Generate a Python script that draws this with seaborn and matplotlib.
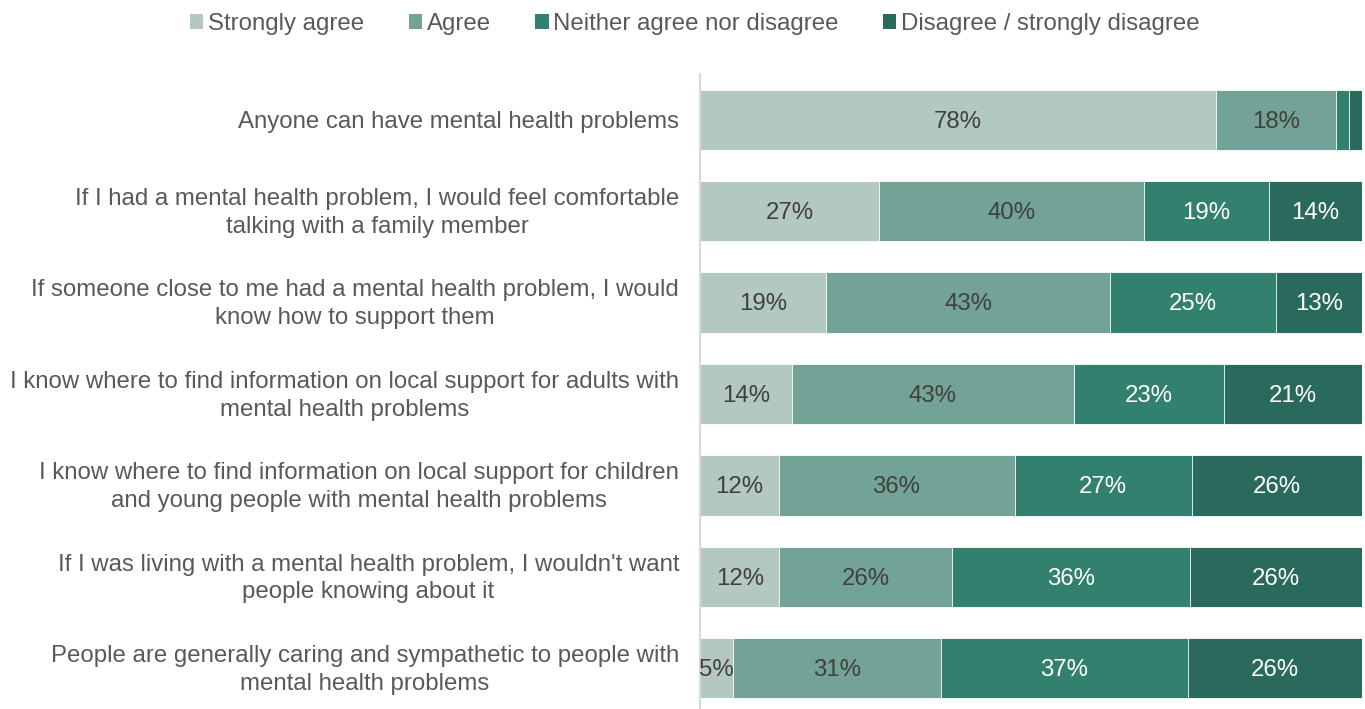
import numpy as np
import pandas as pd
import matplotlib
matplotlib.use("Agg")
import matplotlib.pyplot as plt
from matplotlib.patches import Patch
import seaborn as sns

statements = [
    "Anyone can have mental health problems",
    "If I had a mental health problem, I would feel comfortable\ntalking with a family member",
    "If someone close to me had a mental health problem, I would\nknow how to support them",
    "I know where to find information on local support for adults with\nmental health problems",
    "I know where to find information on local support for children\nand young people with mental health problems",
    "If I was living with a mental health problem, I wouldn't want\npeople knowing about it",
    "People are generally caring and sympathetic to people with\nmental health problems",
]
series_names = ["Strongly agree", "Agree", "Neither agree nor disagree",
                "Disagree / strongly disagree"]
strongly_agree = [78, 27, 19, 14, 12, 12, 5]
agree = [18, 40, 43, 43, 36, 26, 31]
neither = [2, 19, 25, 23, 27, 36, 37]
disagree = [2, 14, 13, 21, 26, 26, 26]

colors = ["#B2C8C1", "#73A396", "#32806E", "#2A6A5C"]
label_colors = ["#404040", "#404040", "#FFFFFF", "#FFFFFF"]
FS = 17.3

sns.set_style("white")
plt.rcParams["font.family"] = ["Liberation Sans", "DejaVu Sans"]

vals = np.array([strongly_agree, agree, neither, disagree], dtype=float)
shares = vals / vals.sum(axis=0)  # each bar fills the full width
cum = np.cumsum(shares, axis=0)

fig = plt.figure(figsize=(13.65, 7.09), dpi=100)
ax = fig.add_axes([700 / 1365, -5 / 709, 662 / 1365, 640 / 709])

# stacked bars: draw cumulative totals from the outermost segment inwards
for i in range(3, -1, -1):
    df = pd.DataFrame({"statement": statements, "value": cum[i]})
    sns.barplot(data=df, x="value", y="statement", orient="h", color=colors[i],
                saturation=1, width=0.66, edgecolor="white", linewidth=0.6, ax=ax)

for i in range(4):
    left = cum[i] - shares[i]
    for r in range(len(statements)):
        if vals[i, r] >= 5:
            ax.text(left[r] + shares[i, r] / 2, r + 0.02, f"{int(vals[i, r])}%",
                    ha="center", va="center", fontsize=FS, color=label_colors[i])

ax.set_xlim(0, 1)
ax.set_ylim(len(statements) - 0.5, -0.5)
ax.set_xlabel("")
ax.set_ylabel("")
ax.set_xticks([])
# two-line labels sit a touch higher so both lines centre on the bar
label_pos = [r - 0.04 if "\n" in s else r for r, s in enumerate(statements)]
ax.set_yticks(label_pos)
ax.set_yticklabels(statements, fontsize=FS, color="#595959", linespacing=1.34,
                   multialignment="center")
ax.set_yticks(np.arange(-0.5, len(statements), 1), minor=True)
ax.tick_params(axis="y", which="major", length=0, pad=15)
ax.tick_params(axis="y", which="minor", length=7, width=1.5, color="#D9D9D9")
for s in ["top", "right", "bottom"]:
    ax.spines[s].set_visible(False)
ax.spines["left"].set_color("#D9D9D9")
ax.spines["left"].set_linewidth(1.5)

handles = [Patch(facecolor=c, edgecolor="none") for c in colors]
fig.legend(handles, series_names, loc="center", bbox_to_anchor=(695 / 1365, 1 - 24 / 709),
           ncol=4, frameon=False, fontsize=FS, labelcolor="#595959",
           handlelength=0.55, handleheight=0.55, handletextpad=0.2, columnspacing=1.85)

fig.savefig("out.png", dpi=100)
